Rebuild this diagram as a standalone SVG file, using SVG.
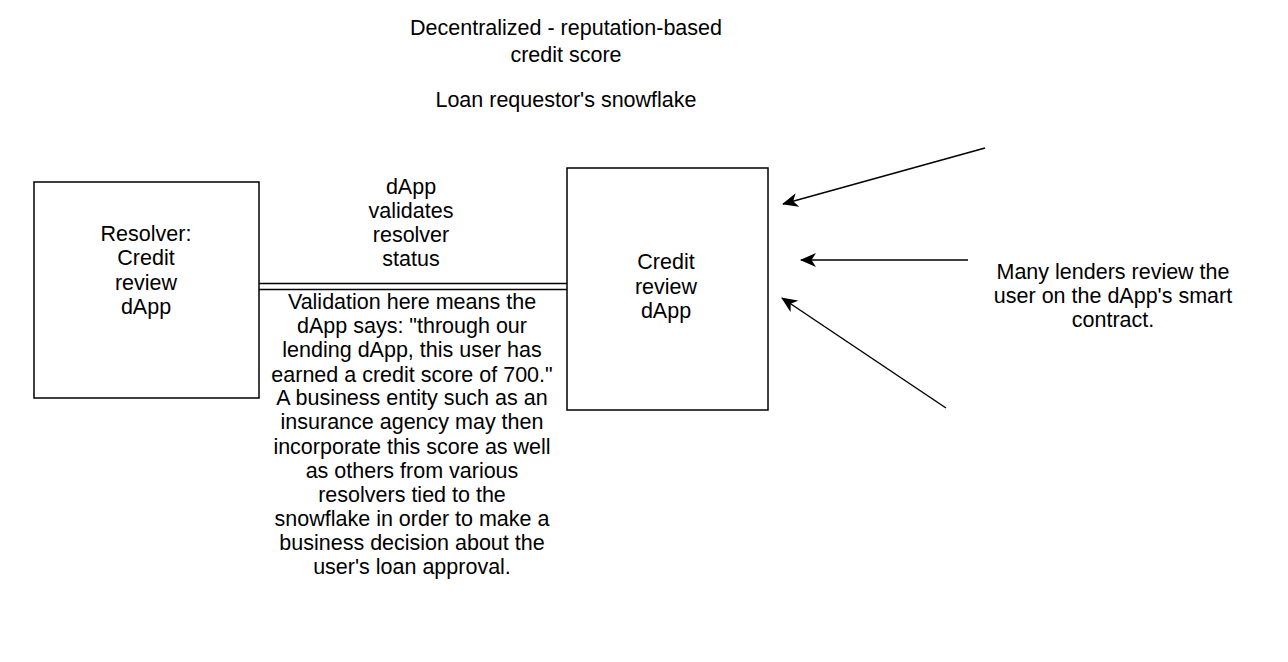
<svg xmlns="http://www.w3.org/2000/svg" width="1288" height="662" viewBox="0 0 1288 662">
<style>
text{font-family:"Liberation Sans",Arial,sans-serif;font-size:21.5px;fill:#000;text-anchor:middle}
.box{fill:#fff;stroke:#000;stroke-width:1.5}
.ln{stroke:#000;stroke-width:1.5;fill:none}
</style>
<defs>
<marker id="ah" viewBox="0 0 16 14" refX="15" refY="7" markerWidth="16" markerHeight="14" markerUnits="userSpaceOnUse" orient="auto">
<path d="M0,0 L16,7 L0,14 L4.5,7 Z" fill="#000"/>
</marker>
</defs>
<rect width="1288" height="662" fill="#fff"/>
<g id="title">
<text x="566" y="35">Decentralized - reputation-based</text>
<text x="566" y="62">credit score</text>
<text x="566" y="107">Loan requestor's snowflake</text>
</g>
<g id="connectors">
<line class="ln" x1="259" y1="283.5" x2="567" y2="283.5"/>
<line class="ln" x1="259" y1="289.5" x2="567" y2="289.5"/>
<line class="ln" x1="985" y1="148" x2="783" y2="204" marker-end="url(#ah)"/>
<line class="ln" x1="968" y1="260" x2="801" y2="260" marker-end="url(#ah)"/>
<line class="ln" x1="946" y1="408" x2="782" y2="298" marker-end="url(#ah)"/>
</g>
<g id="resolver">
<rect class="box" x="34" y="182" width="225" height="216"/>
<text x="146" y="241">Resolver:</text>
<text x="146" y="265">Credit</text>
<text x="146" y="290">review</text>
<text x="146" y="314">dApp</text>
</g>
<g id="credit-review">
<rect class="box" x="567" y="168" width="201" height="242"/>
<text x="666" y="269">Credit</text>
<text x="666" y="294">review</text>
<text x="666" y="318">dApp</text>
</g>
<g id="edge-label-top">
<text x="411" y="194">dApp</text>
<text x="411" y="218">validates</text>
<text x="411" y="242">resolver</text>
<text x="411" y="266">status</text>
</g>
<g id="edge-label-bottom">
<text x="412" y="309">Validation here means the</text>
<text x="412" y="333">dApp says: "through our</text>
<text x="412" y="357">lending dApp, this user has</text>
<text x="412" y="382">earned a credit score of 700."</text>
<text x="412" y="405">A business entity such as an</text>
<text x="412" y="429">insurance agency may then</text>
<text x="412" y="454">incorporate this score as well</text>
<text x="412" y="478">as others from various</text>
<text x="412" y="502">resolvers tied to the</text>
<text x="412" y="526">snowflake in order to make a</text>
<text x="412" y="550">business decision about the</text>
<text x="412" y="574">user's loan approval.</text>
</g>
<g id="lenders">
<text x="1113" y="279">Many lenders review the</text>
<text x="1113" y="303">user on the dApp's smart</text>
<text x="1113" y="327">contract.</text>
</g>
</svg>
